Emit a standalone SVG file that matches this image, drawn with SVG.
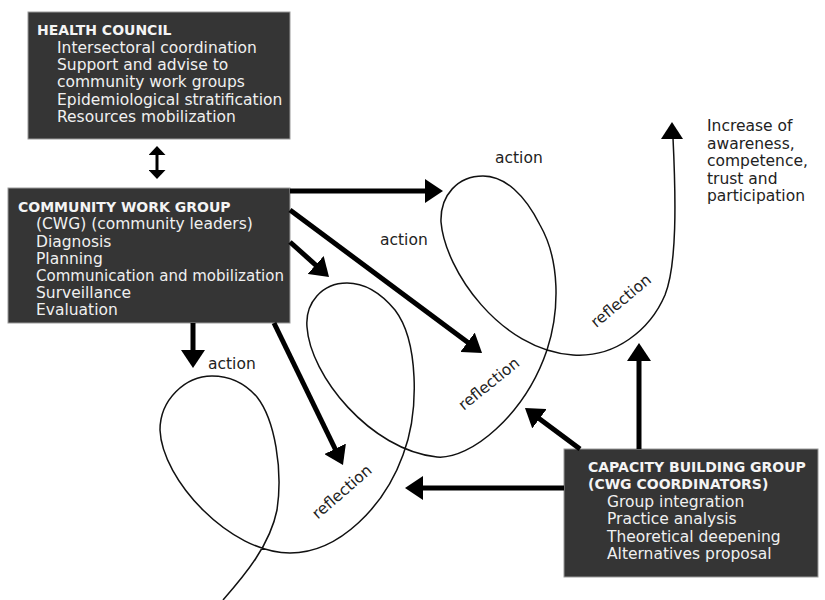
<svg xmlns="http://www.w3.org/2000/svg" width="825" height="600" viewBox="0 0 825 600">
<style>
.box{fill:#353535;stroke:#9a9a9a;stroke-width:1}
.t{font-family:"DejaVu Sans","Liberation Sans",sans-serif;font-size:15.5px;fill:#f0f0f0}
.h{font-family:"DejaVu Sans","Liberation Sans",sans-serif;font-size:14px;font-weight:bold;fill:#f4f4f4}
.l{font-family:"DejaVu Sans","Liberation Sans",sans-serif;font-size:15.5px;fill:#222}
.arr{stroke:#000;stroke-width:5;fill:none;marker-end:url(#ah)}
.spiral{stroke:#111;stroke-width:1.5;fill:none}
</style>
<defs>
<marker id="ah" viewBox="0 0 18 24" markerWidth="18" markerHeight="24" refX="8" refY="12" orient="auto" markerUnits="userSpaceOnUse">
<path d="M0,0 L18,12 L0,24 z" fill="#000"/>
</marker>
<marker id="ahs" viewBox="0 0 9 17" markerWidth="9" markerHeight="17" refX="4" refY="8.5" orient="auto-start-reverse" markerUnits="userSpaceOnUse">
<path d="M0,0 L9,8.5 L0,17 z" fill="#000"/>
</marker>
</defs>

<g id="health-council">
<rect class="box" x="28" y="12" width="262" height="127"/>
<text class="h" x="37" y="35">HEALTH COUNCIL</text>
<text class="t" x="57" y="53">Intersectoral coordination</text>
<text class="t" x="57" y="70.2">Support and advise to</text>
<text class="t" x="57" y="87.4">community work groups</text>
<text class="t" x="57" y="104.6">Epidemiological stratification</text>
<text class="t" x="57" y="121.8">Resources mobilization</text>
</g>

<g id="community-work-group">
<rect class="box" x="8" y="188" width="282" height="135"/>
<text class="h" x="18" y="211.7">COMMUNITY WORK GROUP</text>
<text class="t" x="36" y="229.3">(CWG) (community leaders)</text>
<text class="t" x="36" y="246.5">Diagnosis</text>
<text class="t" x="36" y="263.5">Planning</text>
<text class="t" x="36" y="280.5" textLength="248" lengthAdjust="spacingAndGlyphs">Communication and mobilization</text>
<text class="t" x="36" y="297.7">Surveillance</text>
<text class="t" x="36" y="315">Evaluation</text>
</g>

<g id="capacity-building-group">
<rect class="box" x="564" y="449" width="254" height="128"/>
<text class="h" x="588" y="471.7">CAPACITY BUILDING GROUP</text>
<text class="h" x="588" y="489.3">(CWG COORDINATORS)</text>
<text class="t" x="607" y="506.7">Group integration</text>
<text class="t" x="607" y="524.3">Practice analysis</text>
<text class="t" x="607" y="541.7">Theoretical deepening</text>
<text class="t" x="607" y="559.3">Alternatives proposal</text>
</g>

<g id="outcome">
<text class="l" x="707" y="131">Increase of</text>
<text class="l" x="707" y="148.5">awareness,</text>
<text class="l" x="707" y="166">competence,</text>
<text class="l" x="707" y="183.5">trust and</text>
<text class="l" x="707" y="201">participation</text>
</g>

<g id="spiral">
<path class="spiral" d="M223,600 C245,575 270,545 277,510 C283,470 275,420 257,397 C243,381 228,376 212,376 C185,376 160,400 160,430 C162,480 230,553 290,553 C340,553 385,505 403,455 C420,410 418,340 395,310 C380,292 365,283 347,283 C322,283 305,303 307,327 C310,375 370,450 437,457 C470,460 525,415 547,350 C560,310 560,260 540,225 C525,195 505,176 483,176 C458,176 440,195 441,222 C445,270 500,350 573,355 C615,358 650,330 665,295 C677,265 676,200 673,138"/>
<path d="M672,122 L661,139 L683,139 z" fill="#000"/>
<text class="l" x="495" y="163">action</text>
<text class="l" x="380" y="245">action</text>
<text class="l" x="208" y="369">action</text>
<text class="l" text-anchor="middle" transform="translate(342,492) rotate(-41)" x="0" y="5">reflection</text>
<text class="l" text-anchor="middle" transform="translate(489,384) rotate(-39)" x="0" y="5">reflection</text>
<text class="l" text-anchor="middle" transform="translate(621,301) rotate(-40)" x="0" y="5">reflection</text>
</g>

<g id="connectors">
<line x1="157" y1="151" x2="157" y2="174" stroke="#000" stroke-width="3" marker-start="url(#ahs)" marker-end="url(#ahs)"/>
<line class="arr" x1="290" y1="191" x2="433" y2="191"/>
<line class="arr" x1="290" y1="210" x2="474" y2="347"/>
<line class="arr" x1="290" y1="242" x2="321.6" y2="270.3"/>
<line class="arr" x1="193" y1="323" x2="193" y2="358"/>
<line class="arr" x1="274" y1="323" x2="338.6" y2="456"/>
<line class="arr" x1="564" y1="488" x2="415" y2="488"/>
<line class="arr" x1="580" y1="449" x2="533" y2="414"/>
<line class="arr" x1="639" y1="449" x2="639" y2="353"/>
</g>
</svg>
